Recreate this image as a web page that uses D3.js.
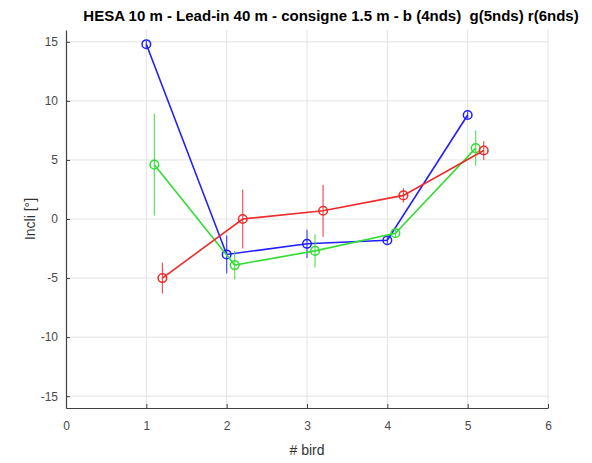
<!DOCTYPE html>
<html>
<head>
<meta charset="utf-8">
<script src="https://cdn.jsdelivr.net/npm/d3@7"></script>
<style>
  html, body { margin: 0; padding: 0; background: #fff; }
  svg { display: block; font-family: "Liberation Sans", Arial, Helvetica, sans-serif; }
</style>
</head>
<body>
<svg id="chart" width="592" height="463"></svg>
<script>
// Bird positions (each series is offset slightly along x)
const birdsBlue  = [1.0, 2.0, 3.0, 4.0, 5.0];
const birdsGreen = [1.1, 2.1, 3.1, 4.1, 5.1];
const birdsRed   = [1.2, 2.2, 3.2, 4.2, 5.2];

// Mean inclination per bird [°]
const inclBlue  = [14.8, -3.0, -2.1, -1.8, 8.8];
const inclGreen = [4.6, -3.9, -2.7, -1.2, 6.0];
const inclRed   = [-5.0, 0.0, 0.7, 2.0, 5.8];

// Half-length of the error bars [°]
const errBlue  = [0.3, 1.6, 1.2, 0.3, 0.3];
const errGreen = [4.3, 1.2, 1.4, 0.4, 1.5];
const errRed   = [1.3, 2.5, 2.2, 0.6, 0.8];

const xTicks = [0, 1, 2, 3, 4, 5, 6];
const yTicks = [-15, -10, -5, 0, 5, 10, 15];

const titleText = "HESA 10 m - Lead-in 40 m - consigne 1.5 m - b (4nds)  g(5nds) r(6nds)";

const svg = d3.select("#chart");
const m = { left: 66, top: 30, right: 548, bottom: 408 };

const x = d3.scaleLinear().domain([0, 6]).range([m.left, m.right]);
const y = d3.scaleLinear().domain([-16, 16]).range([m.bottom, m.top]);

const fmt = d => String(d); // plain hyphen minus, integer labels

// grid
const grid = svg.append("g");
grid.selectAll("line.vx").data(xTicks.slice(1)).enter().append("line")
  .attr("x1", d => x(d)).attr("x2", d => x(d))
  .attr("y1", m.top).attr("y2", m.bottom)
  .attr("stroke", "#e3e3e3").attr("stroke-width", 1);
grid.selectAll("line.hy").data(yTicks).enter().append("line")
  .attr("x1", m.left).attr("x2", m.right)
  .attr("y1", d => y(d)).attr("y2", d => y(d))
  .attr("stroke", "#e3e3e3").attr("stroke-width", 1);

// axes (ticks point inward)
const xAxis = svg.append("g").attr("transform", `translate(0,${m.bottom})`)
  .call(d3.axisBottom(x).tickValues(xTicks).tickFormat(fmt).tickSizeInner(-4).tickSizeOuter(0).tickPadding(13));
const yAxis = svg.append("g").attr("transform", `translate(${m.left},0)`)
  .call(d3.axisLeft(y).tickValues(yTicks).tickFormat(fmt).tickSizeInner(-4).tickSizeOuter(0).tickPadding(8));
[xAxis, yAxis].forEach(a => {
  a.select(".domain").attr("stroke", "#404040").attr("stroke-width", 1.2);
  a.selectAll(".tick line").attr("stroke", "#404040");
  a.selectAll(".tick text").attr("fill", "#4a4a4a")
    .style("font-size", "12px").style("font-family", "Liberation Sans, Arial, sans-serif");
});

// labels
svg.append("text").attr("x", 307).attr("y", 455).attr("text-anchor", "middle")
  .attr("fill", "#333").style("font-size", "14px").text("# bird");
svg.append("text").attr("transform", `translate(35,${y(0)}) rotate(-90)`)
  .attr("text-anchor", "middle").attr("fill", "#333").style("font-size", "14px").text("Incli [°]");
svg.append("text").attr("x", 331).attr("y", 21).attr("text-anchor", "middle")
  .attr("fill", "#000").style("font-size", "15px").style("font-weight", "bold")
  .style("white-space", "pre").text(titleText);

// series
const series = [
  { xs: birdsBlue,  ys: inclBlue,  es: errBlue,  color: "#1f1fff" },
  { xs: birdsGreen, ys: inclGreen, es: errGreen, color: "#33dd33" },
  { xs: birdsRed,   ys: inclRed,   es: errRed,   color: "#ee2a2a" }
];

const line = d3.line().x(d => x(d[0])).y(d => y(d[1]));

series.forEach(s => {
  const pts = s.xs.map((v, i) => [v, s.ys[i], s.es[i]]);
  const g = svg.append("g");
  g.selectAll("line.err").data(pts).enter().append("line")
    .attr("x1", d => x(d[0])).attr("x2", d => x(d[0]))
    .attr("y1", d => y(d[1] - d[2])).attr("y2", d => y(d[1] + d[2]))
    .attr("stroke", s.color).attr("stroke-width", 1.2).attr("opacity", 0.8);
  g.append("path").datum(pts).attr("d", line)
    .attr("fill", "none").attr("stroke", s.color).attr("stroke-width", 1.6);
  g.selectAll("circle").data(pts).enter().append("circle")
    .attr("cx", d => x(d[0])).attr("cy", d => y(d[1])).attr("r", 4.3)
    .attr("fill", "none").attr("stroke", s.color).attr("stroke-width", 1.5);
});
</script>
</body>
</html>
